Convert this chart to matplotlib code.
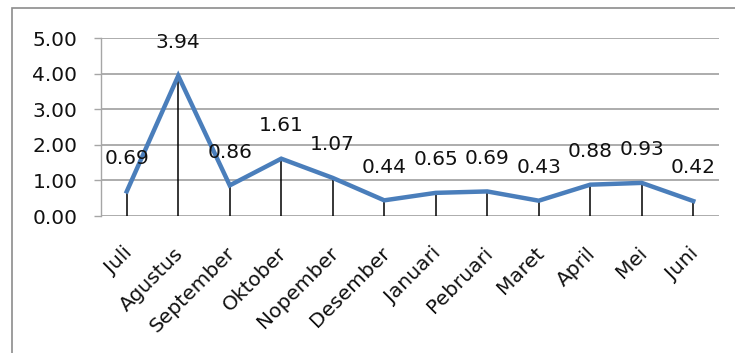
import matplotlib
matplotlib.use("Agg")
import matplotlib.pyplot as plt
from matplotlib.patches import Rectangle
from matplotlib.transforms import ScaledTranslation

months = ["Juli", "Agustus", "September", "Oktober", "Nopember", "Desember",
          "Januari", "Pebruari", "Maret", "April", "Mei", "Juni"]
values = [0.69, 3.94, 0.86, 1.61, 1.07, 0.44, 0.65, 0.69, 0.43, 0.88, 0.93, 0.42]
yticks = [0, 1, 2, 3, 4, 5]

fig = plt.figure(figsize=(7.35, 3.53), dpi=100)
fig.patch.set_facecolor("white")

# chart frame
fig.patches.append(Rectangle((12 / 735, -0.05), 1.0, 1 - 8 / 353 + 0.05,
                             transform=fig.transFigure, fill=False,
                             edgecolor="#8c8c8c", linewidth=1.2))

ax = fig.add_axes([101 / 735, 1 - 216 / 353, (719 - 101) / 735, (216 - 38) / 353])
x = list(range(len(months)))

ax.set_xlim(-0.5, len(months) - 0.5)
ax.set_ylim(0, 5)

for yv in yticks:
    ax.axhline(yv, color="#a6a6a6", linewidth=1.3, zorder=1)

ax.vlines(x, 0, values, colors="black", linewidth=1.1, zorder=2)
ax.plot(x, values, color="#4a7ebb", linewidth=3.2, zorder=3, solid_joinstyle="miter")

for xi, v in zip(x, values):
    ax.annotate(f"{v:.2f}", (xi, v), xytext=(0, 24), textcoords="offset points",
                ha="center", va="center", fontsize=14.5, color="#111111")

ax.set_yticks(yticks)
ax.set_yticklabels([f"{t:.2f}" for t in yticks], fontsize=14.5, color="#111111")
ax.set_xticks(x)
ax.set_xticklabels(months, rotation=45, ha="right", rotation_mode="anchor",
                   fontsize=14.5, color="#111111")

ax.tick_params(axis="x", length=0, pad=20)
ax.tick_params(axis="y", length=5, width=1, color="#a6a6a6", pad=12)

# nudge the month labels slightly left
shift = ScaledTranslation(-4 / 100, 0, fig.dpi_scale_trans)
for lbl in ax.get_xticklabels():
    lbl.set_transform(lbl.get_transform() + shift)

for side in ["top", "right", "bottom"]:
    ax.spines[side].set_visible(False)
ax.spines["left"].set_color("#a6a6a6")
ax.spines["left"].set_linewidth(1.0)
ax.set_facecolor("white")

fig.savefig("out.png", dpi=100)
